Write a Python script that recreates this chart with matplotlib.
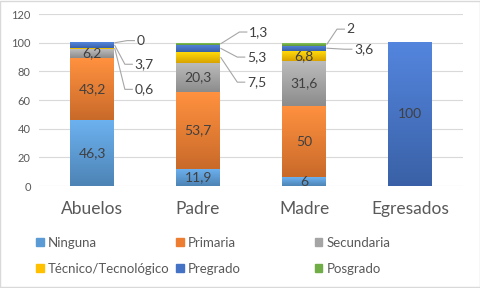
import matplotlib
matplotlib.use('Agg')
import matplotlib.pyplot as plt
import numpy as np
from matplotlib.colors import LinearSegmentedColormap, to_rgb
from matplotlib.patches import Patch

plt.rcParams['font.family'] = ['Lato', 'DejaVu Sans']

groups = ['Abuelos', 'Padre', 'Madre', 'Egresados']
levels = ['Ninguna', 'Primaria', 'Secundaria', 'Técnico/Tecnológico', 'Pregrado', 'Posgrado']
ninguna = [46.3, 11.9, 6, 0]
primaria = [43.2, 53.7, 50, 0]
secundaria = [6.2, 20.3, 31.6, 0]
tecnico = [0.6, 7.5, 6.8, 0]
pregrado = [3.7, 5.3, 3.6, 100]
posgrado = [0, 1.3, 2, 0]
series = [ninguna, primaria, secundaria, tecnico, pregrado, posgrado]
colors = ['#5B9BD5', '#ED7D31', '#A5A5A5', '#FFC000', '#4472C4', '#70AD47']

# labels drawn outside the bar with a leader line: (group, level, text dx, text y)
outside = [(0, 5, 0.42, 101.5), (0, 4, 0.40, 85), (0, 3, 0.40, 67.5),
           (1, 5, 0.48, 107.5), (1, 4, 0.46, 90), (1, 3, 0.46, 72.5),
           (2, 5, 0.40, 109.5), (2, 4, 0.47, 95.5)]
out_keys = {(g, l) for g, l, _, _ in outside}


def fmt(v):
    s = ('%.1f' % v).rstrip('0').rstrip('.')
    return s.replace('.', ',')


fig = plt.figure(figsize=(4.81, 2.88), dpi=100)
ax = fig.add_axes([0.081, 0.354, 0.882, 0.597])

x = np.arange(len(groups))
w = 0.41
bottom = np.zeros(len(groups))
tops = {}
grad = np.linspace(0, 1, 64).reshape(-1, 1)
for li, (vals, c) in enumerate(zip(series, colors)):
    bars = ax.bar(x, vals, w, bottom=bottom, color='none', edgecolor='none', label=levels[li])
    base = np.array(to_rgb(c))
    cmap = LinearSegmentedColormap.from_list('g', [base * 0.85, np.minimum(base * 1.08 + 0.04, 1)])
    for gi, p in enumerate(bars.patches):
        v = vals[gi]
        tops[(gi, li)] = (bottom[gi], bottom[gi] + v)
        if v <= 0:
            continue
        ax.imshow(grad, extent=[p.get_x(), p.get_x() + p.get_width(), p.get_y(), p.get_y() + v],
                  origin='lower', cmap=cmap, aspect='auto', zorder=2)
        if (gi, li) not in out_keys:
            ax.text(x[gi], bottom[gi] + v / 2, fmt(v), ha='center', va='center',
                    fontsize=10, color='#404040', zorder=4)
    bottom = bottom + np.array(vals)

for gi, li, dx, ty in outside:
    b, t = tops[(gi, li)]
    tx = x[gi] + dx
    ax.plot([x[gi] + w / 2 + 0.01, tx - 0.09, tx - 0.02], [(b + t) / 2, ty, ty],
            color='#A6A6A6', lw=0.8, zorder=3)
    ax.text(tx, ty, fmt(series[li][gi]), fontsize=10, color='#404040', va='center', ha='left', zorder=4)

ax.set_xlim(-0.5, 3.5)
ax.set_ylim(0, 120)
ax.set_yticks(range(0, 121, 20))
ax.grid(axis='y', color='#D9D9D9', lw=0.8, zorder=0)
ax.set_axisbelow(True)
for s in ax.spines.values():
    s.set_visible(False)
ax.set_xticks(x)
ax.set_xticklabels(groups, fontsize=12.5, color='#595959')
ax.tick_params(axis='x', length=0, pad=11)
ax.tick_params(axis='y', length=0, pad=6, labelsize=8, labelcolor='#595959')

for col, xpos in enumerate([0.075, 0.366, 0.654]):
    hs = [Patch(color=colors[col]), Patch(color=colors[col + 3])]
    ls = [levels[col], levels[col + 3]]
    fig.legend(hs, ls, loc='upper left', bbox_to_anchor=(xpos, 0.178), frameon=False,
               fontsize=9.5, labelcolor='#595959', handlelength=0.6, handleheight=0.6,
               handletextpad=0.3, labelspacing=1.05, borderaxespad=0, borderpad=0)

fig.patches.append(plt.Rectangle((0.001, 0.002), 0.997, 0.995, transform=fig.transFigure,
                                 fill=False, edgecolor='#D9D9D9', lw=1))
fig.savefig('out.png', dpi=100)
